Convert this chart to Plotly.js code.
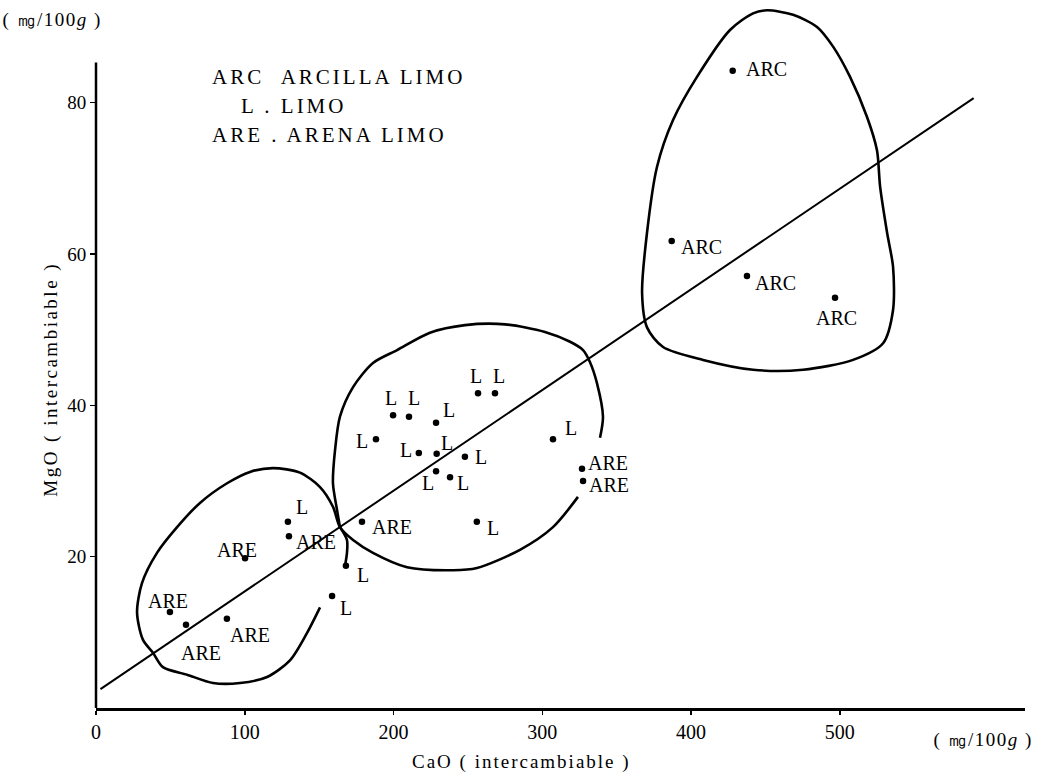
<!DOCTYPE html>
<html>
<head>
<meta charset="utf-8">
<script src="https://cdn.plot.ly/plotly-3.0.1.min.js"></script>
<style>
  html, body { margin: 0; padding: 0; background: #fff; }
  #chart { width: 1047px; height: 775px; }
  g.annotation[data-index="0"] text,
  g.annotation[data-index="1"] text,
  g.annotation[data-index="2"] text { letter-spacing: 3px; }
  g.annotation[data-index="3"] text { letter-spacing: 2.5px; }
  g.annotation[data-index="4"] text { letter-spacing: 2px; }
  g.annotation[data-index="5"] text,
  g.annotation[data-index="6"] text { letter-spacing: 1.5px; }
</style>
</head>
<body>
<div id="chart"></div>
<script>
// Exchangeable CaO vs MgO (mg/100g) by soil texture class
const arcX = [428, 387, 437.6, 496.8];
const arcY = [84.2, 61.7, 57.1, 54.2];

const limoX = [199.7, 210.4, 228.6, 188.2, 217, 229, 248, 228.6, 238, 256.8, 268.2, 307.2, 256, 129, 168, 158.7];
const limoY = [38.7, 38.5, 37.7, 35.5, 33.7, 33.6, 33.2, 31.3, 30.5, 41.6, 41.6, 35.5, 24.6, 24.6, 18.8, 14.8];

const arenaX = [326.7, 327.4, 178.8, 129.7, 100.2, 49.7, 60.5, 88];
const arenaY = [31.6, 30.0, 24.6, 22.7, 19.8, 12.7, 11.0, 11.8];

// Fitted trend line end points
const fitX = [3, 590];
const fitY = [2.5, 80.6];

// Hand-drawn group outlines (data units)
const arcOutlineX = [451.1, 468.6, 484.7, 495.5, 506.9, 518.3, 525.0, 527.1, 531.8, 535.8, 535.8, 529.1, 508.9, 475.3, 441.7, 408.1, 381.2, 370.4, 367.1, 370.4, 377.1, 387.9, 404.0, 426.2, 441.7, 451.1];
const arcOutlineY = [92.2, 91.6, 90.0, 87.4, 83.4, 78.1, 73.7, 68.9, 62.8, 58.3, 52.6, 48.2, 46.0, 44.7, 44.7, 46.0, 47.7, 50.3, 54.8, 62.8, 71.5, 77.7, 83.4, 89.6, 91.8, 92.2];

const arenaOutlineX = [150.6, 141.8, 130.4, 115.0, 96.8, 78.7, 61.2, 45.0, 38.3, 31.6, 27.6, 30.9, 41.0, 54.5, 69.9, 88.1, 103.5, 119.0, 137.1, 150.6, 159.3, 164.0, 172.8, 186.2, 209.1, 240.0, 256.1, 285.0, 307.2, 324.0];
const arenaOutlineY = [13.3, 9.9, 6.3, 4.1, 3.3, 3.3, 4.4, 5.4, 7.3, 9.0, 12.6, 16.5, 20.5, 23.9, 27.1, 29.7, 31.2, 31.7, 31.1, 29.2, 26.6, 23.9, 22.2, 20.5, 18.6, 18.2, 18.5, 20.9, 23.9, 27.9];

const limoOutlineX = [164.0, 162.0, 159.3, 160.7, 164.0, 172.8, 186.2, 202.4, 224.5, 248.1, 275.0, 301.8, 318.7, 327.4, 332.1, 336.8, 340.8, 338.8];
const limoOutlineY = [23.9, 26.2, 29.7, 34.1, 38.5, 42.4, 45.6, 47.3, 49.6, 50.6, 50.7, 49.7, 48.4, 47.3, 45.7, 42.9, 38.5, 35.7];

const hookX = [164.0, 168.7, 168.7, 167.4];
const hookY = [23.9, 22.2, 20.5, 18.8];

const xTicks = [0, 100, 200, 300, 400, 500];
const yTicks = [20, 40, 60, 80];

// Label offsets from each point, in pixels [right, down]
const arcOff = [[34, -2], [30, 6], [29, 7], [1, 20]];
const limoOff = [[-2, -17], [5, -19], [13, -13], [-14, 2], [-13, -3], [10, -11], [16, 0], [-8, 12], [13, 6], [-2, -17], [4, -17], [18, -11], [16, 6], [14, -15], [17, 9], [14, 12]];
const arenaOff = [[26, -6], [26, 4], [30, 5], [27, 6], [-8, -8], [-2, -11], [15, 28], [23, 16]];

const serif = 'Liberation Serif, Times New Roman, serif';

const outlineStyle = { color: '#000', width: 2.6, shape: 'spline', smoothing: 0.8 };
const labelFont = { family: serif, size: 20, color: '#000' };
const dot = { color: '#000', size: 6.5 };

function pointTrace(xs, ys, label) {
  return {
    type: 'scatter', mode: 'markers', x: xs, y: ys,
    text: xs.map(() => label), marker: dot, cliponaxis: false,
    hoverinfo: 'x+y+text', showlegend: false
  };
}

function pointLabels(xs, ys, label, offsets) {
  return xs.map((x, i) => ({
    x: x, y: ys[i], xref: 'x', yref: 'y', text: label, showarrow: false,
    xanchor: 'center', yanchor: 'middle',
    xshift: offsets[i][0], yshift: -offsets[i][1], font: labelFont
  }));
}

const traces = [
  { type: 'scatter', mode: 'lines', x: fitX, y: fitY, line: { color: '#000', width: 2 }, showlegend: false, hoverinfo: 'skip' },
  { type: 'scatter', mode: 'lines', x: arcOutlineX, y: arcOutlineY, line: outlineStyle, showlegend: false, hoverinfo: 'skip' },
  { type: 'scatter', mode: 'lines', x: arenaOutlineX, y: arenaOutlineY, line: outlineStyle, showlegend: false, hoverinfo: 'skip' },
  { type: 'scatter', mode: 'lines', x: limoOutlineX, y: limoOutlineY, line: outlineStyle, showlegend: false, hoverinfo: 'skip' },
  { type: 'scatter', mode: 'lines', x: hookX, y: hookY, line: outlineStyle, showlegend: false, hoverinfo: 'skip' },
  pointTrace(arcX, arcY, 'ARC'),
  pointTrace(limoX, limoY, 'L'),
  pointTrace(arenaX, arenaY, 'ARE')
];

const yTop = 85.3;
const yMax = 93.56;

const fixedNotes = [
  { xref: 'paper', yref: 'paper', x: 0.1227, y: 0.891, xanchor: 'left', yanchor: 'middle', align: 'left', showarrow: false,
    text: 'ARC\u00a0\u00a0ARCILLA LIMO', font: { family: serif, size: 21, color: '#000' } },
  { xref: 'paper', yref: 'paper', x: 0.1539, y: 0.85, xanchor: 'left', yanchor: 'middle', align: 'left', showarrow: false,
    text: 'L . LIMO', font: { family: serif, size: 21, color: '#000' } },
  { xref: 'paper', yref: 'paper', x: 0.1227, y: 0.809, xanchor: 'left', yanchor: 'middle', align: 'left', showarrow: false,
    text: 'ARE . ARENA LIMO', font: { family: serif, size: 21, color: '#000' } },
  { xref: 'paper', yref: 'paper', x: -0.049, y: 0.465, xanchor: 'center', yanchor: 'middle', showarrow: false, textangle: -90,
    text: 'MgO ( intercambiable )', font: { family: serif, size: 19, color: '#000' } },
  { xref: 'paper', yref: 'paper', x: 0.458, y: -0.076, xanchor: 'center', yanchor: 'middle', showarrow: false,
    text: 'CaO ( intercambiable )', font: { family: serif, size: 19, color: '#000' } },
  { xref: 'paper', yref: 'paper', x: 0.955, y: -0.045, xanchor: 'center', yanchor: 'middle', showarrow: false,
    text: '( ㎎/100<i>g</i> )', font: { family: serif, size: 19, color: '#000' } },
  { xref: 'paper', yref: 'paper', x: -0.047, y: 0.972, xanchor: 'center', yanchor: 'middle', showarrow: false,
    text: '( ㎎/100<i>g</i> )', font: { family: serif, size: 19, color: '#000' } }
];

const layout = {
  width: 1047, height: 775,
  margin: { l: 96, r: 22, t: 0, b: 67 },
  paper_bgcolor: '#fff', plot_bgcolor: '#fff',
  showlegend: false,
  xaxis: {
    range: [0, 624.5], showgrid: false, zeroline: false,
    showline: true, linecolor: '#000', linewidth: 2.5,
    ticks: 'outside', ticklen: 4, tickwidth: 1.5, tickcolor: '#000',
    tickvals: xTicks, ticktext: xTicks.map(String),
    tickfont: { family: serif, size: 20, color: '#000' }
  },
  yaxis: {
    range: [0, yMax], showgrid: false, zeroline: false, showline: false,
    ticks: 'outside', ticklen: 5, tickwidth: 1.5, tickcolor: '#000',
    tickvals: yTicks, ticktext: yTicks.map(String),
    tickfont: { family: serif, size: 19, color: '#000' }
  },
  shapes: [
    { type: 'line', xref: 'paper', yref: 'paper', x0: 0, x1: 0, y0: 0, y1: yTop / yMax, line: { color: '#000', width: 2.5 } }
  ],
  annotations: fixedNotes.concat(
    pointLabels(arcX, arcY, 'ARC', arcOff),
    pointLabels(limoX, limoY, 'L', limoOff),
    pointLabels(arenaX, arenaY, 'ARE', arenaOff)
  )
};

Plotly.newPlot('chart', traces, layout, { displayModeBar: false, staticPlot: true });
</script>
</body>
</html>
